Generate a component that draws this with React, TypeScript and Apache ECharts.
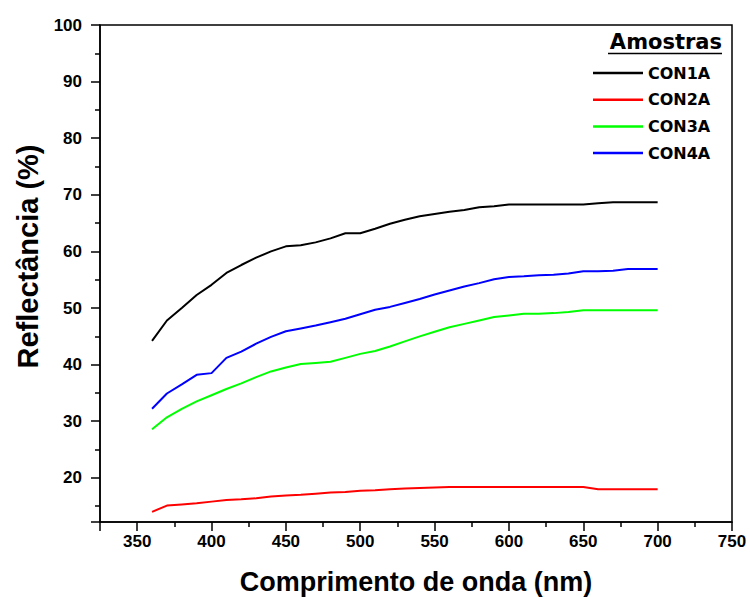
import React, { useEffect, useRef } from "react";
import * as echarts from "echarts";

const wavelengths = [360, 370, 380, 390, 400, 410, 420, 430, 440, 450, 460, 470, 480, 490, 500, 510, 520, 530, 540, 550, 560, 570, 580, 590, 600, 610, 620, 630, 640, 650, 660, 670, 680, 690, 700];

const con1a = [44.2, 47.8, 50.0, 52.3, 54.1, 56.2, 57.6, 58.9, 60.0, 60.9, 61.1, 61.6, 62.3, 63.2, 63.2, 64.0, 64.9, 65.6, 66.2, 66.6, 67.0, 67.3, 67.8, 68.0, 68.3, 68.3, 68.3, 68.3, 68.3, 68.3, 68.5, 68.7, 68.7, 68.7, 68.7];
const con2a = [14.0, 15.1, 15.3, 15.5, 15.8, 16.1, 16.2, 16.4, 16.7, 16.9, 17.0, 17.2, 17.4, 17.5, 17.7, 17.8, 18.0, 18.1, 18.2, 18.3, 18.4, 18.4, 18.4, 18.4, 18.4, 18.4, 18.4, 18.4, 18.4, 18.4, 18.0, 18.0, 18.0, 18.0, 18.0];
const con3a = [28.6, 30.7, 32.2, 33.5, 34.6, 35.7, 36.7, 37.8, 38.8, 39.5, 40.1, 40.3, 40.5, 41.2, 41.9, 42.4, 43.2, 44.1, 45.0, 45.8, 46.6, 47.2, 47.8, 48.4, 48.7, 49.0, 49.0, 49.1, 49.3, 49.6, 49.6, 49.6, 49.6, 49.6, 49.6];
const con4a = [32.2, 34.9, 36.5, 38.2, 38.5, 41.2, 42.3, 43.7, 44.9, 45.9, 46.4, 46.9, 47.5, 48.1, 48.9, 49.7, 50.2, 50.9, 51.6, 52.4, 53.1, 53.8, 54.4, 55.1, 55.5, 55.6, 55.8, 55.9, 56.1, 56.5, 56.5, 56.6, 56.9, 56.9, 56.9];

const seriesNames = ["CON1A", "CON2A", "CON3A", "CON4A"];
const seriesValues = [con1a, con2a, con3a, con4a];
const seriesColors = ["#000000", "#ff0000", "#00ff00", "#0000ff"];

const legendTitle = "Amostras";
const xTitle = "Comprimento de onda (nm)";
const yTitle = "Reflectância (%)";
const xRange = [325, 750];
const yRange = [12.2, 100];

const FONT = "'Liberation Sans', Arial, sans-serif";
const WIDE = "'DejaVu Sans', 'Liberation Sans', sans-serif";

export default function App() {
  const ref = useRef<HTMLDivElement>(null);
  useEffect(() => {
    if (!ref.current) return;
    const chart = echarts.init(ref.current, null, { renderer: "svg" });
    chart.setOption({
      animation: false,
      backgroundColor: "#ffffff",
      textStyle: { fontFamily: FONT },
      grid: {
        left: 100,
        right: 18,
        top: 25,
        bottom: 75,
        show: true,
        borderColor: "#000",
        borderWidth: 1.5,
        containLabel: false,
        outerBoundsMode: "none",
      },
      legend: {
        orient: "vertical",
        left: 593,
        top: 65,
        padding: 0,
        itemWidth: 50,
        itemHeight: 2.5,
        itemGap: 10.7,
        icon: "rect",
        textStyle: { fontFamily: WIDE, fontWeight: "bold", fontSize: 16, color: "#000", lineHeight: 16 },
        data: seriesNames,
      },
      graphic: [
        {
          type: "text",
          right: 28,
          top: 31,
          style: { text: legendTitle, font: `bold 21px ${WIDE}`, fill: "#000" },
        },
        {
          type: "line",
          shape: { x1: 608, y1: 53.5, x2: 722, y2: 53.5 },
          style: { stroke: "#000", lineWidth: 1.5 },
        },
      ],
      xAxis: {
        type: "value",
        min: xRange[0],
        max: xRange[1],
        splitNumber: 8,
        name: xTitle,
        nameLocation: "middle",
        nameGap: 46,
        nameTextStyle: { fontFamily: FONT, fontWeight: "bold", fontSize: 27, color: "#000" },
        axisLine: { show: true, lineStyle: { color: "#000", width: 1.5 } },
        axisTick: { show: true, inside: false, length: 9, lineStyle: { color: "#000", width: 1.5 } },
        minorTick: { show: true, splitNumber: 2, length: 5, lineStyle: { color: "#000", width: 1.5 } },
        axisLabel: { showMinLabel: false, margin: 11, fontFamily: FONT, fontWeight: "bold", fontSize: 17, color: "#000" },
        splitLine: { show: false },
      },
      yAxis: {
        type: "value",
        min: yRange[0],
        max: yRange[1],
        splitNumber: 8,
        name: yTitle,
        nameLocation: "middle",
        nameGap: 58,
        nameTextStyle: { fontFamily: FONT, fontWeight: "bold", fontSize: 29, color: "#000", padding: [0, 0, 0, 34] },
        axisLine: { show: true, lineStyle: { color: "#000", width: 1.5 } },
        axisTick: { show: true, inside: false, length: 9, lineStyle: { color: "#000", width: 1.5 } },
        minorTick: { show: true, splitNumber: 2, length: 5, lineStyle: { color: "#000", width: 1.5 } },
        axisLabel: { showMinLabel: false, margin: 18, fontFamily: FONT, fontWeight: "bold", fontSize: 17, color: "#000" },
        splitLine: { show: false },
      },
      series: seriesNames.map((name, i) => ({
        name,
        type: "line",
        data: wavelengths.map((w, j) => [w, seriesValues[i][j]]),
        showSymbol: false,
        symbol: "none",
        lineStyle: { color: seriesColors[i], width: 2 },
        itemStyle: { color: seriesColors[i] },
      })),
    });
    return () => chart.dispose();
  }, []);
  return <div ref={ref} style={{ position: "absolute", left: 0, top: 0, width: 750, height: 597 }} />;
}
